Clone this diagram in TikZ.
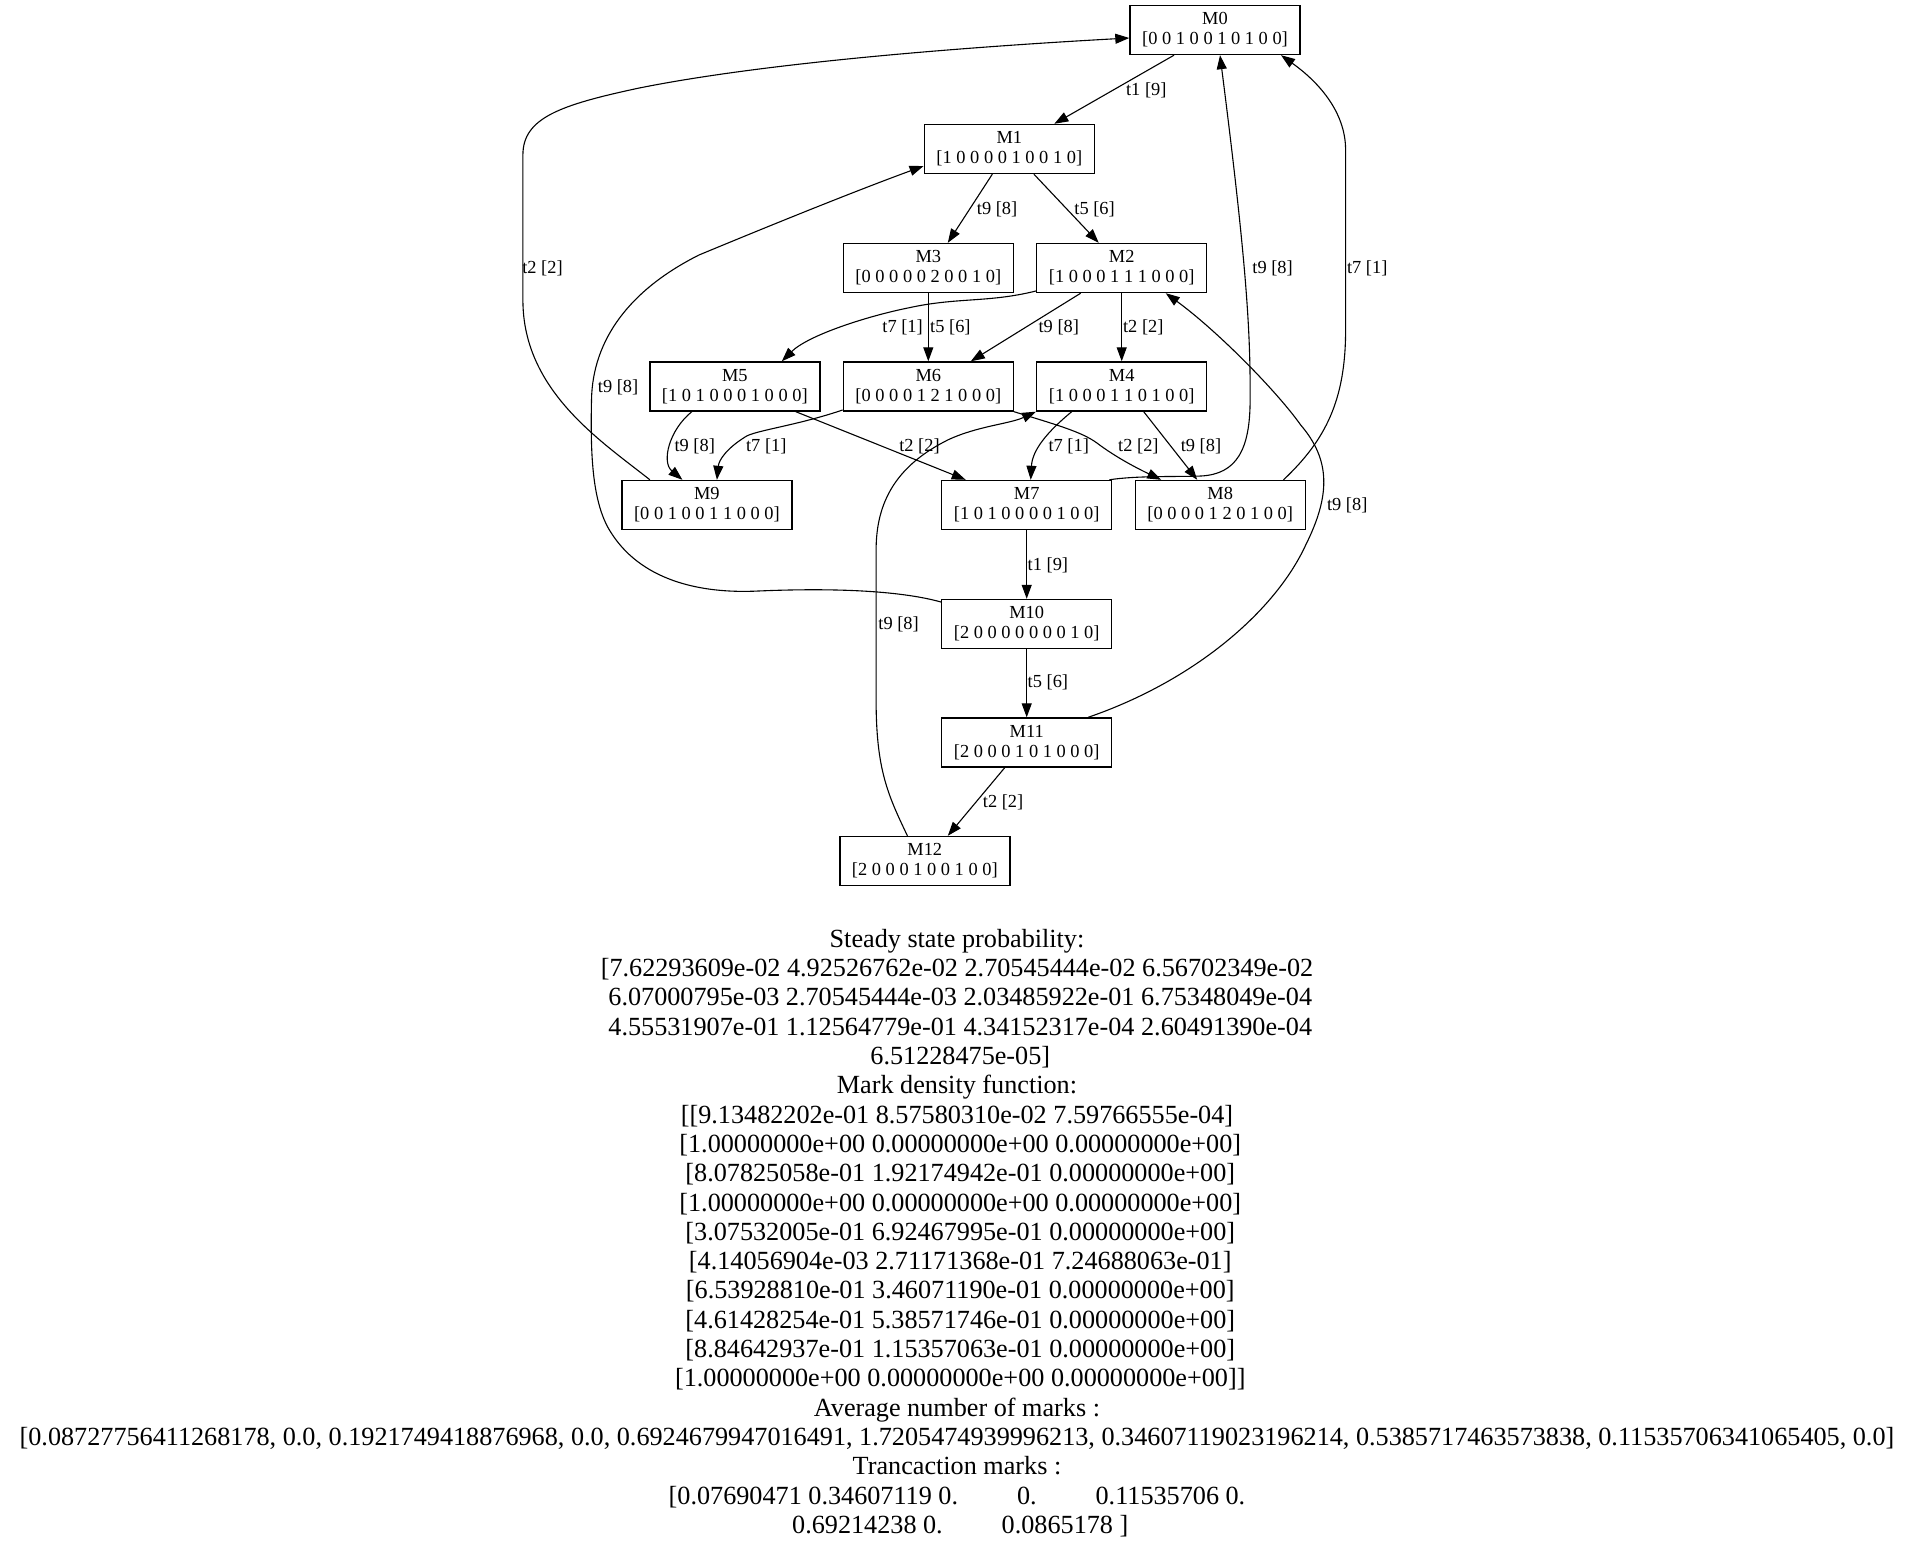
\documentclass[tikz,border=0pt]{standalone}
\usepackage{fontspec}
\setmainfont{Liberation Serif}
\usetikzlibrary{arrows.meta,calc}
\begin{document}
\begin{tikzpicture}[x=0.5pt,y=0.5pt,
  state/.style={draw=black, line width=0.7pt, rectangle, minimum width=85pt,
    minimum height=24.5pt, inner sep=0pt, align=center,
    font=\fontsize{9.2}{10}\selectfont},
  edge/.style={draw=black, line width=0.55pt, -{Triangle[length=7pt,width=5pt]}},
  lbl/.style={anchor=west, inner sep=0pt, font=\fontsize{9.2}{10}\selectfont},
  ]
\useasboundingbox (0,0) rectangle (1911,-1551);

% markings (reachability graph states)
\node[state] (M0)  at (1215,-30)     {M0\\{}[0 0 1 0 0 1 0 1 0 0]};
\node[state] (M1)  at (1009.3,-149)  {M1\\{}[1 0 0 0 0 1 0 0 1 0]};
\node[state] (M3)  at (928.3,-268)   {M3\\{}[0 0 0 0 0 2 0 0 1 0]};
\node[state] (M2)  at (1121.7,-268)  {M2\\{}[1 0 0 0 1 1 1 0 0 0]};
\node[state] (M5)  at (734.8,-386.5) {M5\\{}[1 0 1 0 0 0 1 0 0 0]};
\node[state] (M6)  at (928.3,-386.5) {M6\\{}[0 0 0 0 1 2 1 0 0 0]};
\node[state] (M4)  at (1121.7,-386.5){M4\\{}[1 0 0 0 1 1 0 1 0 0]};
\node[state] (M9)  at (706.9,-505)   {M9\\{}[0 0 1 0 0 1 1 0 0 0]};
\node[state] (M7)  at (1026.7,-505)  {M7\\{}[1 0 1 0 0 0 0 1 0 0]};
\node[state] (M8)  at (1220.2,-505)  {M8\\{}[0 0 0 0 1 2 0 1 0 0]};
\node[state] (M10) at (1026.7,-624)  {M10\\{}[2 0 0 0 0 0 0 0 1 0]};
\node[state] (M11) at (1026.7,-742.5){M11\\{}[2 0 0 0 1 0 1 0 0 0]};
\node[state] (M12) at (924.8,-861)   {M12\\{}[2 0 0 0 1 0 0 1 0 0]};

% transitions between markings
\draw[edge] ($(M0.south)+(-41,0)$) -- ($(M1.north)+(45,0)$);
\node[lbl] (l01) at (1125.7,-90) {t1 [9]};

\draw[edge] ($(M1.south)+(-17,0)$) -- ($(M3.north)+(19.5,0)$);
\node[lbl] (l13) at (976.5,-209) {t9 [8]};

\draw[edge] ($(M1.south)+(24.6,0)$) -- ($(M2.north)+(-23,0)$);
\node[lbl] (l12) at (1074,-209) {t5 [6]};

\draw[edge] ($(M9.north)+(-57,0)$) .. controls (599.5,-440) and (522.9,-390) .. (522.9,-300)
  -- (522.9,-155) .. controls (522.9,-118) and (559.7,-105) .. (639.3,-88)
  .. controls (758.7,-64) and (947.7,-48) .. ($(M0.west)+(0,-8)$);
\node[lbl] (l90) at (521.9,-268) {t2 [2]};

\draw[edge] ($(M7.north east)+(-3,0)$) .. controls (1136.8,-475.5) and (1176.5,-477) .. (1201.3,-476)
  .. controls (1236.4,-474) and (1250.1,-450) .. (1250.1,-400)
  .. controls (1250.6,-330) and (1246.1,-260) .. ($(M0.south)+(5,0)$);
\node[lbl] (l70) at (1252,-268) {t9 [8]};

\draw[edge] ($(M8.north)+(63.3,0)$) .. controls (1325.7,-440) and (1345.6,-400) .. (1345.6,-330)
  -- (1345.6,-150) .. controls (1345.6,-110) and (1315.8,-80) .. ($(M0.south)+(66,0)$);
\node[lbl] (l80) at (1346.6,-268) {t7 [1]};

\draw[edge] ($(M10.west)+(0,22)$) .. controls (897.9,-590) and (828.3,-588) .. (758.6,-591)
  .. controls (699,-594) and (639.3,-580) .. (609.4,-530)
  .. controls (591.5,-500) and (590.5,-450) .. (591.5,-400)
  .. controls (592.5,-340) and (629.3,-290) .. (699,-255)
  .. controls (778.5,-222) and (858.1,-190) .. ($(M1.west)+(0,-17)$);
\node[lbl] (l101) at (597.5,-387) {t9 [8]};

\draw[edge] ($(M2.west)+(0,-23)$) .. controls (987.5,-303) and (957.6,-297) .. (907.9,-308)
  .. controls (868.1,-316) and (808.4,-335) .. ($(M5.north)+(47,0)$);
\node[lbl] (l25) at (882,-327) {t7 [1]};

\draw[edge] (M3.south) -- (M6.north);
\node[lbl] (l36) at (929.8,-327) {t5 [6]};

\draw[edge] ($(M2.south)+(-41,0)$) -- ($(M6.north)+(42.5,0)$);
\node[lbl] (l26) at (1038.2,-327) {t9 [8]};

\draw[edge] (M2.south) -- (M4.north);
\node[lbl] (l24) at (1122.7,-327) {t2 [2]};

\draw[edge] ($(M5.south)+(-43,0)$) .. controls (669.1,-430) and (661.2,-462) .. ($(M9.north)+(-24.5,0)$);
\node[lbl] (l59) at (674.1,-446) {t9 [8]};

\draw[edge] ($(M6.west)+(0,-23.5)$) .. controls (798.4,-425) and (758.6,-430) .. (746.7,-436)
  .. controls (726.8,-448) and (718.9,-460) .. ($(M9.north)+(10,0)$);
\node[lbl] (l69) at (745.7,-446) {t7 [1]};

\draw[edge] ($(M5.south)+(61,0)$) -- ($(M7.north)+(-61,0)$);
\node[lbl] (l57) at (898.9,-446) {t2 [2]};

\draw[edge] ($(M4.south)+(-50,0)$) .. controls (1047.1,-432) and (1032.3,-450) .. ($(M7.north)+(4,0)$);
\node[lbl] (l47) at (1048.1,-446) {t7 [1]};

\draw[edge] (M6.south east) .. controls (1057.1,-425) and (1082,-432) .. (1096.9,-443)
  .. controls (1116.8,-458) and (1138.7,-469) .. ($(M8.north)+(-59,0)$);
\node[lbl] (l68) at (1117.8,-446) {t2 [2]};

\draw[edge] ($(M4.south)+(22,0)$) -- ($(M8.north)+(-23,0)$);
\node[lbl] (l48) at (1180.4,-446) {t9 [8]};

\draw[edge] ($(M12.north)+(-17.4,0)$) .. controls (888,-795) and (876.1,-770) .. (876.1,-700)
  -- (876.1,-550) .. controls (876.1,-500) and (897.9,-465) .. (947.7,-440)
  .. controls (977.5,-426) and (1009.3,-424) .. (M4.south west);
\node[lbl] (l124) at (878,-624) {t9 [8]};

\draw[edge] ($(M11.north)+(61.5,0)$) .. controls (1196.4,-680) and (1275.8,-610) .. (1305.7,-545)
  .. controls (1330.6,-495) and (1330.6,-460) .. (1300.7,-425)
  .. controls (1275.8,-390) and (1216.2,-330) .. ($(M2.south)+(44,0)$);
\node[lbl] (l112) at (1326.6,-505) {t9 [8]};

\draw[edge] (M7.south) -- (M10.north);
\node[lbl] (l710) at (1027.3,-565) {t1 [9]};

\draw[edge] (M10.south) -- (M11.north);
\node[lbl] (l1011) at (1027.3,-682) {t5 [6]};

\draw[edge] ($(M11.south)+(-22,0)$) -- ($(M12.north)+(23,0)$);
\node[lbl] (l1112) at (982.5,-802) {t2 [2]};

% analysis results
\node[anchor=north, inner sep=0pt, align=center,
      font=\fontsize{13.1}{14.65}\selectfont] (stats) at (957,-928.8) {%
Steady state probability:\\{}%
[7.62293609e-02 4.92526762e-02 2.70545444e-02 6.56702349e-02\\%
\mbox{\ }6.07000795e-03 2.70545444e-03 2.03485922e-01 6.75348049e-04\\%
\mbox{\ }4.55531907e-01 1.12564779e-01 4.34152317e-04 2.60491390e-04\\%
\mbox{\ }6.51228475e-05]\\%
Mark density function:\\{}%
[[9.13482202e-01 8.57580310e-02 7.59766555e-04]\\%
\mbox{\ }[1.00000000e+00 0.00000000e+00 0.00000000e+00]\\%
\mbox{\ }[8.07825058e-01 1.92174942e-01 0.00000000e+00]\\%
\mbox{\ }[1.00000000e+00 0.00000000e+00 0.00000000e+00]\\%
\mbox{\ }[3.07532005e-01 6.92467995e-01 0.00000000e+00]\\%
\mbox{\ }[4.14056904e-03 2.71171368e-01 7.24688063e-01]\\%
\mbox{\ }[6.53928810e-01 3.46071190e-01 0.00000000e+00]\\%
\mbox{\ }[4.61428254e-01 5.38571746e-01 0.00000000e+00]\\%
\mbox{\ }[8.84642937e-01 1.15357063e-01 0.00000000e+00]\\%
\mbox{\ }[1.00000000e+00 0.00000000e+00 0.00000000e+00]]\\%
Average number of marks :\\{}%
[0.08727756411268178, 0.0, 0.1921749418876968, 0.0, 0.6924679947016491, 1.7205474939996213, 0.34607119023196214, 0.5385717463573838, 0.11535706341065405, 0.0]\\%
Trancaction marks :\\{}%
[0.07690471 0.34607119 0.\hspace{2.25em}0.\hspace{2.25em}0.11535706 0.\\%
\mbox{\ }0.69214238 0.\hspace{2.25em}0.0865178 ]};
\end{tikzpicture}
\end{document}
